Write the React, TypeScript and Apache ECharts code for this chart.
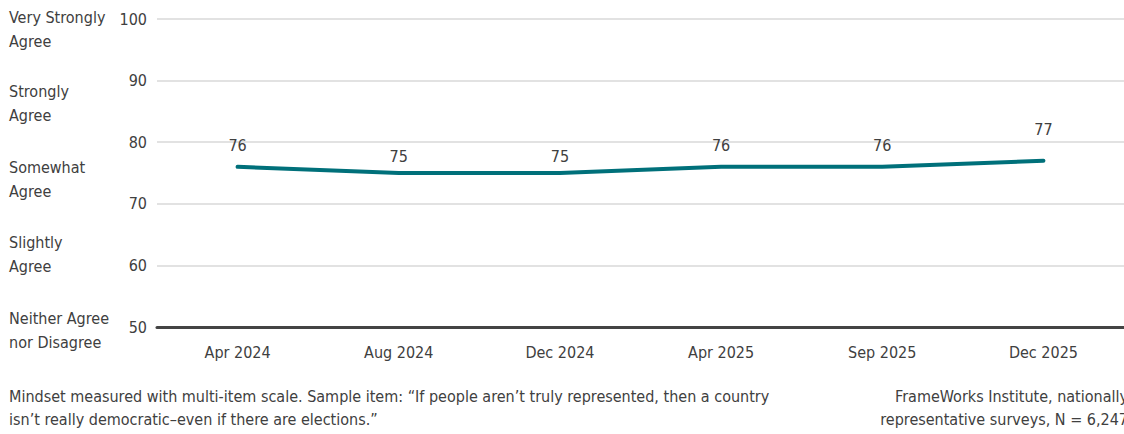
import React, { useEffect, useRef } from "react";
import * as echarts from "echarts";

const categories = ["Apr 2024", "Aug 2024", "Dec 2024", "Apr 2025", "Sep 2025", "Dec 2025"];
const values = [76, 75, 75, 76, 76, 77];
const scaleLabels = [
  { text: "Very Strongly\nAgree", value: 100 },
  { text: "Strongly\nAgree", value: 90 },
  { text: "Somewhat\nAgree", value: 80 },
  { text: "Slightly\nAgree", value: 70 },
  { text: "Neither Agree\nnor Disagree", value: 60 },
];
const footLeft = "Mindset measured with multi-item scale. Sample item: \u201cIf people aren\u2019t truly represented, then a country\nisn\u2019t really democratic\u2013even if there are elections.\u201d";
const footRight = "FrameWorks Institute, nationally\nrepresentative surveys, N = 6,247";

// label offsets (styling, kept apart from data)
const labelDistances = [12, 8, 8, 12, 12, 22];

const FONT = "'Liberation Sans Narrow', 'DejaVu Sans Condensed', Roboto, sans-serif";
const TXT = "#404040";

export default function App() {
  const ref = useRef<HTMLDivElement>(null);
  useEffect(() => {
    if (!ref.current) return;
    const chart = echarts.init(ref.current, null, { renderer: "svg" });
    const labelTops = [5, 79, 155, 230, 306];
    chart.setOption({
      animation: false,
      textStyle: { fontFamily: FONT },
      grid: { left: 157, right: -3, top: 19, bottom: 107, containLabel: false },
      xAxis: {
        type: "category",
        data: categories,
        boundaryGap: true,
        axisLine: { show: true, lineStyle: { color: "#444", width: 3 } },
        axisTick: { show: false },
        axisLabel: { color: TXT, fontSize: 16, fontFamily: FONT, margin: 17 },
      },
      yAxis: {
        type: "value",
        min: 50,
        max: 100,
        interval: 10,
        axisLine: { show: false },
        axisTick: { show: false },
        axisLabel: { color: TXT, fontSize: 16, fontFamily: FONT, margin: 10 },
        splitLine: { lineStyle: { color: "#d9d9d9", width: 1.5 } },
      },
      series: [
        {
          type: "line",
          data: values.map((v, i) => ({ value: v, label: { distance: labelDistances[i] } })),
          symbol: "circle",
          symbolSize: 2,
          showSymbol: true,
          itemStyle: { color: "#00707a" },
          lineStyle: { color: "#00707a", width: 4, cap: "round" },
          label: {
            show: true,
            position: "top",
            distance: 14,
            color: TXT,
            fontSize: 16,
            fontFamily: FONT,
          },
        },
      ],
      graphic: [
        ...scaleLabels.map((s, i) => ({
          type: "text",
          left: 9,
          top: labelTops[i],
          style: { text: s.text, fontSize: 16, lineHeight: 24, fill: TXT, fontFamily: FONT },
        })),
        {
          type: "text",
          left: 9,
          top: 385,
          style: { text: footLeft, fontSize: 16, lineHeight: 23, fill: TXT, fontFamily: FONT },
        },
        {
          type: "text",
          x: 1128,
          y: 385,
          style: { text: footRight, fontSize: 16, lineHeight: 23, fill: TXT, fontFamily: FONT, align: "right", textAlign: "right" },
        },
      ],
    });
    return () => chart.dispose();
  }, []);
  return (
    <div
      ref={ref}
      style={{ position: "fixed", left: 0, top: 0, width: 1124, height: 434, background: "#fff" }}
    />
  );
}
